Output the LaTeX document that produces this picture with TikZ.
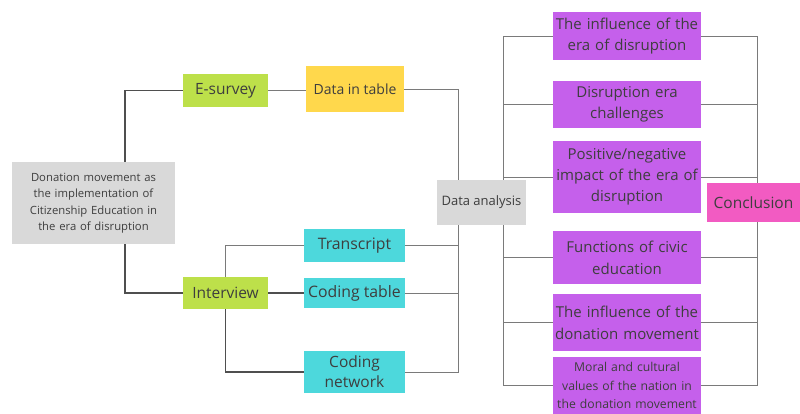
\documentclass[tikz,border=0pt]{standalone}
\usepackage{fontspec}
\setmainfont{Open Sans}
\usetikzlibrary{backgrounds}
\definecolor{cgray}{HTML}{D9D9D9}
\definecolor{cgreen}{HTML}{BDE04A}
\definecolor{cyellow}{HTML}{FFD84C}
\definecolor{ccyan}{HTML}{4DD8DC}
\definecolor{cpurple}{HTML}{C560EB}
\definecolor{cpink}{HTML}{F25BC2}
\definecolor{ctext}{HTML}{3E3E3E}
\definecolor{cline}{HTML}{7A7A7A}
\definecolor{cdark}{HTML}{4F4F4F}
\tikzset{
  box/.style={inner sep=0pt, align=center, text=ctext},
  graybox/.style={box, fill=cgray},
  greenbox/.style={box, fill=cgreen},
  yellowbox/.style={box, fill=cyellow},
  cyanbox/.style={box, fill=ccyan},
  purplebox/.style={box, fill=cpurple, minimum width=148pt, text width=148pt},
  pinkbox/.style={box, fill=cpink},
  thinline/.style={draw=cline, line width=0.8pt},
  thickline/.style={draw=cdark, line width=1.6pt},
  fs/.style args={#1/#2}{font=\fontsize{#1}{#2}\selectfont}
}
\begin{document}
\begin{tikzpicture}[x=1pt,y=-1pt]
\useasboundingbox (0,0) rectangle (800,414);
\node[graybox, fs=11.3/16.5, minimum width=163pt, minimum height=82pt, text width=160pt] (gray) at (93.5,203)
  {Donation movement as\\the implementation of\\Citizenship Education in\\the era of disruption};
\node[greenbox, fs=15.5/18, minimum width=85pt, minimum height=33pt] (es) at (225.5,90.5) {E-survey};
\node[yellowbox, fs=14/16, minimum width=98pt, minimum height=46pt] (dt) at (355,89) {Data in table};
\node[greenbox, fs=15.5/18, minimum width=85pt, minimum height=32pt] (iv) at (225.5,293) {Interview};
\node[cyanbox, fs=15.8/18, minimum width=101pt, minimum height=33pt] (tr) at (354.5,245.5) {Transcript};
\node[cyanbox, fs=15.8/18, minimum width=101pt, minimum height=30pt] (ct) at (354.5,293) {Coding table};
\node[cyanbox, fs=15.5/20, minimum width=101pt, minimum height=42pt, text width=100pt] (cn) at (354.5,372) {Coding\\network};
\node[graybox, fs=13/15, minimum width=89pt, minimum height=45pt] (da) at (481.5,202.5) {Data analysis};
\node[purplebox, fs=15/21, minimum height=48pt] (p1) at (627,36) {The influence of the\\era of disruption};
\node[purplebox, fs=15/21, minimum height=47pt] (p2) at (627,104.5) {Disruption era\\challenges};
\node[purplebox, fs=15/21, minimum height=72pt] (p3) at (627,177) {Positive/negative\\impact of the era of\\disruption};
\node[purplebox, fs=15/22, minimum height=53pt] (p4) at (627,257.5) {Functions of civic\\education};
\node[purplebox, fs=15/22, minimum height=57pt] (p5) at (627,322.5) {The influence of the\\donation movement};
\node[purplebox, fs=12.2/18.5, minimum height=57pt] (p6) at (627,385.5) {Moral and cultural\\values of the nation in\\the donation movement};
\node[pinkbox, fs=15.5/18, minimum width=93pt, minimum height=39pt] (co) at (753.5,202.5) {Conclusion};
\coordinate (b1) at (458,0);
\coordinate (b2) at (503,0);
\coordinate (b3) at (757,0);
\begin{scope}[on background layer]
  \draw[thickline] ([xshift=31.5pt]gray.north) |- (es.west);
  \draw[thickline] ([xshift=31.5pt]gray.south) |- (iv.west);
  \draw[thinline] (es.east) -- (dt.west |- es.east);
  \draw[thickline] (iv.east) -- (ct.west);
  \draw[thinline] (tr.west) -| (iv.north);
  \draw[thickline] (cn.west) -| (iv.south);
  \draw[thinline] (dt.east) -| (b1 |- cn.east) -- (cn.east);
  \draw[thinline] (tr.east) -- (b1 |- tr.east);
  \draw[thinline] (ct.east) -- (b1 |- ct.east);
  \draw[thinline] (p1.west) -| (b2 |- p6.west) -- (p6.west);
  \draw[thinline] (p1.east) -| (b3 |- p6.east) -- (p6.east);
  \foreach \n in {p2,p3,p4,p5}{
    \draw[thinline] (\n.west) -- (b2 |- \n.west);
    \draw[thinline] (\n.east) -- (b3 |- \n.east);
  }
\end{scope}
\end{tikzpicture}
\end{document}
